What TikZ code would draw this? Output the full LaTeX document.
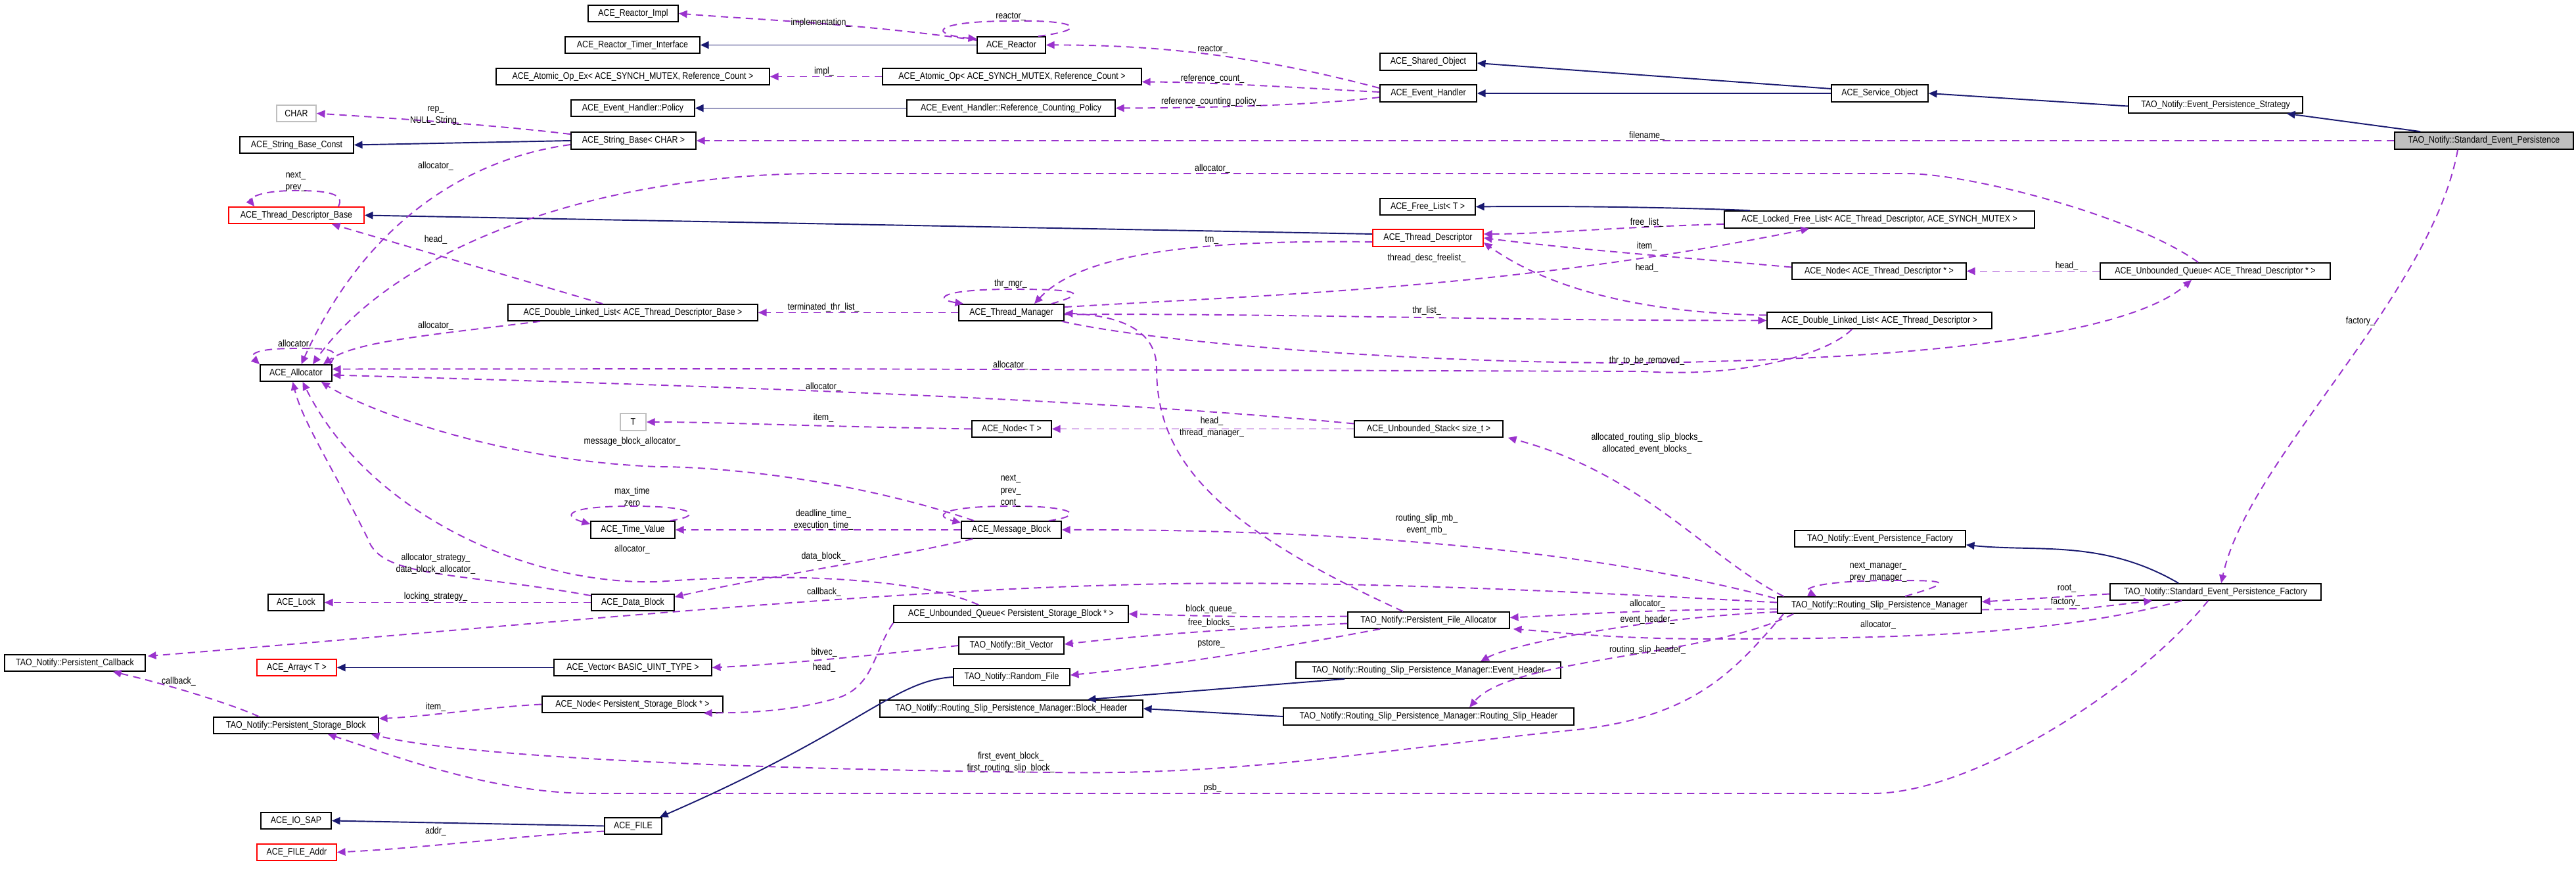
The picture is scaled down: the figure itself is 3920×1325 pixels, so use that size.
\documentclass[tikz,border=0pt]{standalone}
\usepackage{fontspec}
\setmainfont{Liberation Sans}
\newfontfamily\dfont[FakeStretch=0.86]{Liberation Sans}
\usetikzlibrary{arrows.meta,calc}
\definecolor{inh}{HTML}{191970}
\definecolor{use}{HTML}{9A32CD}
\definecolor{gbox}{HTML}{BFBFBF}
\tikzset{
  box/.style={draw=black,line width=0.5pt,inner sep=0pt,font=\dfont\fontsize{4.1}{4.6}\selectfont,fill=white},
  redbox/.style={draw=red},
  graybox/.style={draw=gbox},
  mainbox/.style={fill=gbox},
  lbl/.style={inner sep=0pt,font=\dfont\fontsize{4.1}{5.2}\selectfont,align=center},
  inhe/.style={draw=inh,line width=0.55pt,-{Triangle[length=3.6pt,width=3.2pt]}},
  usee/.style={draw=use,line width=0.55pt,dash pattern=on 3.2pt off 2.2pt,-{Triangle[length=3.6pt,width=3.2pt]}},
}
\newcommand{\bx}[7][]{\node[box,#1,minimum width={(#4-#3)*0.01cm},minimum height={(#6-#5)*0.01cm}] (#2) at ({(#3+#4)/2},{(#5+#6)/2}) {#7};}
\begin{document}
\begin{tikzpicture}[x=0.01cm,y=-0.01cm]
\useasboundingbox (0,0) rectangle (3920,1325);
% nodes
\bx{rimpl}{895}{1032}{8}{33}{ACE\_Reactor\_Impl}
\bx{rti}{860}{1065}{56}{81}{ACE\_Reactor\_Timer\_Interface}
\bx{aopex}{755}{1171}{104}{129}{ACE\_Atomic\_Op\_Ex< ACE\_SYNCH\_MUTEX, Reference\_Count >}
\bx{ehp}{869}{1057}{152}{177}{ACE\_Event\_Handler::Policy}
\bx[graybox]{char}{421}{481}{160}{185}{CHAR}
\bx{sbc}{365}{538}{208}{233}{ACE\_String\_Base\_Const}
\bx{sb}{869}{1059}{201}{227}{ACE\_String\_Base< CHAR >}
\bx[redbox]{tdb}{348}{554}{315}{340}{ACE\_Thread\_Descriptor\_Base}
\bx{reactor}{1487}{1591}{56}{81}{ACE\_Reactor}
\bx{aop}{1343}{1737}{104}{129}{ACE\_Atomic\_Op< ACE\_SYNCH\_MUTEX, Reference\_Count >}
\bx{rcp}{1380}{1697}{152}{177}{ACE\_Event\_Handler::Reference\_Counting\_Policy}
\bx{sho}{2100}{2247}{81}{107}{ACE\_Shared\_Object}
\bx{eh}{2100}{2247}{129}{155}{ACE\_Event\_Handler}
\bx{so}{2787}{2934}{129}{155}{ACE\_Service\_Object}
\bx{eps}{3239}{3504}{147}{172}{TAO\_Notify::Event\_Persistence\_Strategy}
\bx[mainbox]{sep}{3644}{3916}{201}{227}{TAO\_Notify::Standard\_Event\_Persistence}
\bx{fl}{2100}{2245}{302}{327}{ACE\_Free\_List< T >}
\bx{lfl}{2624}{3096}{321}{347}{ACE\_Locked\_Free\_List< ACE\_Thread\_Descriptor, ACE\_SYNCH\_MUTEX >}
\bx[redbox]{td}{2089}{2257}{349}{375}{ACE\_Thread\_Descriptor}
\bx{ntd}{2727}{2992}{400}{425}{ACE\_Node< ACE\_Thread\_Descriptor * >}
\bx{uqtd}{3196}{3546}{400}{425}{ACE\_Unbounded\_Queue< ACE\_Thread\_Descriptor * >}
\bx{dll1}{773}{1153}{463}{488}{ACE\_Double\_Linked\_List< ACE\_Thread\_Descriptor\_Base >}
\bx{alloc}{396}{505}{555}{580}{ACE\_Allocator}
\bx[graybox]{t}{944}{983}{629}{655}{T}
\bx{tv}{899}{1027}{793}{819}{ACE\_Time\_Value}
\bx{tm}{1459}{1619}{463}{488}{ACE\_Thread\_Manager}
\bx{nodet}{1479}{1600}{640}{665}{ACE\_Node< T >}
\bx{mb}{1463}{1615}{793}{819}{ACE\_Message\_Block}
\bx{dlltd}{2689}{3031}{475}{500}{ACE\_Double\_Linked\_List< ACE\_Thread\_Descriptor >}
\bx{stack}{2061}{2287}{640}{665}{ACE\_Unbounded\_Stack< size\_t >}
\bx{epf}{2731}{2991}{807}{832}{TAO\_Notify::Event\_Persistence\_Factory}
\bx{sepf}{3211}{3532}{888}{913}{TAO\_Notify::Standard\_Event\_Persistence\_Factory}
\bx{lock}{408}{493}{904}{929}{ACE\_Lock}
\bx{db}{900}{1026}{904}{929}{ACE\_Data\_Block}
\bx{pcb}{7}{221}{996}{1021}{TAO\_Notify::Persistent\_Callback}
\bx[redbox]{arr}{391}{512}{1003}{1028}{ACE\_Array< T >}
\bx{vec}{843}{1083}{1003}{1028}{ACE\_Vector< BASIC\_UINT\_TYPE >}
\bx{npsb}{825}{1100}{1059}{1084}{ACE\_Node< Persistent\_Storage\_Block * >}
\bx{psb}{325}{576}{1091}{1116}{TAO\_Notify::Persistent\_Storage\_Block}
\bx{iosap}{397}{504}{1236}{1261}{ACE\_IO\_SAP}
\bx{file}{920}{1007}{1244}{1269}{ACE\_FILE}
\bx[redbox]{fa}{391}{512}{1284}{1309}{ACE\_FILE\_Addr}
\bx{uqpsb}{1360}{1717}{921}{947}{ACE\_Unbounded\_Queue< Persistent\_Storage\_Block * >}
\bx{pfa}{2051}{2297}{931}{956}{TAO\_Notify::Persistent\_File\_Allocator}
\bx{bv}{1459}{1619}{969}{995}{TAO\_Notify::Bit\_Vector}
\bx{rf}{1451}{1628}{1017}{1043}{TAO\_Notify::Random\_File}
\bx{ehd}{1972}{2375}{1007}{1032}{TAO\_Notify::Routing\_Slip\_Persistence\_Manager::Event\_Header}
\bx{bh}{1339}{1739}{1065}{1091}{TAO\_Notify::Routing\_Slip\_Persistence\_Manager::Block\_Header}
\bx{rsh}{1953}{2395}{1077}{1103}{TAO\_Notify::Routing\_Slip\_Persistence\_Manager::Routing\_Slip\_Header}
\bx{rspm}{2705}{3015}{908}{933}{TAO\_Notify::Routing\_Slip\_Persistence\_Manager}
% inheritance
\draw[inhe] (reactor.west) -- (rti.east);
\draw[inhe] (rcp.west) -- (ehp.east);
\draw[inhe] (sb.west) -- (sbc.east);
\draw[inhe] ($(td.west)+(0,-6)$) -- (tdb.east);
\draw[inhe] ($(so.west)+(0,-7)$) -- ($(sho.east)+(0,2)$);
\draw[inhe] (so.west) -- (eh.east);
\draw[inhe] ($(eps.west)+(0,2)$) -- (so.east);
\draw[inhe] ($(sep.north west)+(40,0)$) -- ($(eps.south east)+(-25,0)$);
\draw[inhe] ($(lfl.north west)+(40,0)$) .. controls (2560,316) and (2400,313) .. (fl.east);
\draw[inhe] ($(sepf.north west)+(105,0)$) .. controls (3200,820) and (3100,840) .. ($(epf.south east)+(0,-4)$);
\draw[inhe] (vec.west) -- (arr.east);
\draw[inhe] ($(ehd.south west)+(75,0)$) -- ($(bh.north east)+(-85,0)$);
\draw[inhe] (rsh.west) -- (bh.east);
\draw[inhe] (file.west) -- (iosap.east);
\draw[inhe] (rf.west) .. controls (1360,1035) and (1310,1110) .. ($(file.north east)+(-4,0)$);
% usage edges
\draw[usee] ($(reactor.north west)+(0,6)$) .. controls (1300,35) and (1150,30) .. (rimpl.east);
\node[lbl] (l1) at (1249,35) {implementation\_};
\draw[usee] ($(reactor.north east)+(-12,0)$) .. controls (1660,45) and (1640,30) .. (1540,32) .. controls (1420,32) and (1410,52) .. ($(reactor.north west)+(0,4)$);
\node[lbl] (l2) at (1538,25) {reactor\_};
\draw[usee] ($(eh.west)+(0,-8)$) .. controls (1950,95) and (1800,68) .. (reactor.east);
\node[lbl] (l3) at (1845,75) {reactor\_};
\draw[usee] (aop.west) -- (aopex.east);
\node[lbl] (l4) at (1254,109) {impl\_};
\draw[usee] ($(eh.west)+(0,-2)$) .. controls (2000,135) and (1850,125) .. ($(aop.east)+(0,8)$);
\node[lbl] (l5) at (1845,120) {reference\_count\_};
\draw[usee] ($(eh.west)+(0,6)$) .. controls (2000,160) and (1850,164) .. (rcp.east);
\node[lbl] (l6) at (1843,155) {reference\_counting\_policy\_};
\draw[usee] ($(sb.north west)+(0,4)$) .. controls (750,190) and (600,180) .. (char.east);
\node[lbl] (l7) at (663,176) {rep\_\\NULL\_String\_};
\draw[usee] (sep.west) -- (sb.east);
\node[lbl] (l8) at (2506,207) {filename\_};
\draw[usee] ($(sb.west)+(0,6)$) .. controls (720,240) and (560,330) .. ($(alloc.north)+(8,0)$);
\node[lbl] (l9) at (663,253) {allocator\_};
\draw[usee] ($(tdb.north east)+(-40,0)$) .. controls (525,295) and (500,290) .. (450,290) .. controls (385,290) and (380,305) .. ($(tdb.north west)+(40,0)$);
\node[lbl] (l10) at (450,276) {next\_\\prev\_};
\draw[usee] ($(dll1.north west)+(145,0)$) -- ($(tdb.south east)+(-50,0)$);
\node[lbl] (l11) at (663,365) {head\_};
\draw[usee] ($(dll1.south west)+(50,0)$) .. controls (650,510) and (540,520) .. ($(alloc.north east)+(-14,0)$);
\node[lbl] (l12) at (663,496) {allocator\_};
\draw[usee] ($(uqtd.north west)+(150,0)$) .. controls (3250,330) and (3000,264) .. (2900,264) -- (1250,264) .. controls (900,264) and (600,380) .. ($(alloc.north east)+(-30,0)$);
\node[lbl] (l13) at (1845,257) {allocator\_};
\draw[usee] ($(alloc.north east)+(-4,0)$) .. controls (520,530) and (500,530) .. (450,530) .. controls (385,530) and (380,540) .. (alloc.north west);
\node[lbl] (l14) at (450,524) {allocator\_};
\draw[usee] ($(td.west)+(0,6)$) .. controls (1850,365) and (1650,380) .. ($(tm.north)+(35,0)$);
\node[lbl] (l15) at (1844,365) {tm\_};
\draw[usee] ($(tm.north east)+(-20,0)$) .. controls (1660,445) and (1640,440) .. (1540,440) .. controls (1430,440) and (1420,455) .. ($(tm.north west)+(8,0)$);
\node[lbl] (l16) at (1538,432) {thr\_mgr\_};
\draw[usee] (tm.west) -- (dll1.east);
\node[lbl] (l17) at (1253,468) {terminated\_thr\_list\_};
\draw[usee] ($(tm.north east)+(0,5)$) .. controls (1900,450) and (2300,440) .. ($(lfl.south west)+(130,0)$);
\node[lbl] (l18) at (2171,393) {thread\_desc\_freelist\_};
\draw[usee] ($(lfl.south west)+(0,-7)$) .. controls (2450,346) and (2350,356) .. ($(td.east)+(0,-6)$);
\node[lbl] (l19) at (2506,339) {free\_list\_};
\draw[usee] ($(ntd.west)+(0,-6)$) .. controls (2600,395) and (2400,380) .. (td.east);
\node[lbl] (l20) at (2506,375) {item\_};
\draw[usee] ($(dlltd.west)+(0,-8)$) .. controls (2450,475) and (2330,420) .. ($(td.east)+(0,7)$);
\node[lbl] (l21) at (2506,408) {head\_};
\draw[usee] (uqtd.west) -- (ntd.east);
\node[lbl] (l22) at (3145,405) {head\_};
\draw[usee] ($(tm.east)+(0,3)$) .. controls (1900,476) and (2300,488) .. (dlltd.west);
\node[lbl] (l23) at (2171,473) {thr\_list\_};
\draw[usee] ($(tm.south east)+(-4,0)$) .. controls (1800,530) and (2300,560) .. (2600,550) .. controls (3000,540) and (3250,500) .. ($(uqtd.south)+(-36,0)$);
\node[lbl] (l24) at (2506,549) {thr\_to\_be\_removed\_};
\draw[usee] ($(dlltd.south west)+(130,0)$) .. controls (2780,540) and (2650,575) .. (2500,565) -- (1200,561) -- ($(alloc.east)+(0,-6)$);
\node[lbl] (l25) at (1538,556) {allocator\_};
\draw[usee] ($(stack.west)+(0,-8)$) .. controls (1700,610) and (1200,590) .. ($(alloc.east)+(0,3)$);
\node[lbl] (l26) at (1253,589) {allocator\_};
\draw[usee] (stack.west) -- (nodet.east);
\node[lbl] (l27) at (1844,650) {head\_\\thread\_manager\_};
\draw[usee] (nodet.west) .. controls (1200,648) and (1100,642) .. (t.east);
\node[lbl] (l28) at (1253,636) {item\_};
\draw[usee] ($(pfa.north west)+(85,0)$) .. controls (1850,800) and (1760,700) .. (1760,560) .. controls (1760,500) and (1700,480) .. ($(tm.east)+(0,1)$);
\draw[usee] (mb.west) -- (tv.east);
\node[lbl] (l29) at (1253,791) {deadline\_time\_\\execution\_time\_};
\draw[usee] ($(tv.north east)+(-8,0)$) .. controls (1070,785) and (1060,770) .. (962,770) .. controls (860,770) and (855,785) .. ($(tv.north west)+(0,5)$);
\node[lbl] (l30) at (962,755) {max\_time\\zero};
\node[lbl] (l31) at (962,836) {allocator\_};
\draw[usee] ($(mb.north east)+(-20,0)$) .. controls (1650,785) and (1640,770) .. (1540,770) .. controls (1430,770) and (1420,785) .. ($(mb.north west)+(0,3)$);
\node[lbl] (l32) at (1538,747) {next\_\\prev\_\\cont\_};
\draw[usee] ($(mb.north west)+(20,0)$) .. controls (1300,730) and (1100,710) .. (1000,710) .. controls (750,700) and (550,620) .. ($(alloc.south east)+(-17,0)$);
\node[lbl] (l33) at (962,672) {message\_block\_allocator\_};
\draw[usee] ($(mb.south west)+(18,0)$) .. controls (1350,850) and (1150,880) .. ($(db.north east)+(0,5)$);
\node[lbl] (l34) at (1253,847) {data\_block\_};
\draw[usee] (db.west) -- (lock.east);
\node[lbl] (l35) at (663,908) {locking\_strategy\_};
\draw[usee] ($(db.north west)+(0,3)$) .. controls (700,870) and (580,880) .. (560,820) .. controls (500,700) and (460,640) .. ($(alloc.south)+(-5,0)$);
\node[lbl] (l36) at (663,858) {allocator\_strategy\_\\data\_block\_allocator\_};
\draw[usee] ($(uqpsb.north west)+(130,0)$) .. controls (1400,880) and (1200,870) .. (1000,885) .. controls (800,890) and (560,780) .. ($(alloc.south)+(10,0)$);
\draw[usee] ($(rspm.west)+(0,-4)$) .. controls (2400,900) and (2000,880) .. (1700,890) .. controls (1300,900) and (700,960) .. ($(pcb.north east)+(3,3)$);
\node[lbl] (l37) at (1254,901) {callback\_};
\draw[usee] ($(rspm.north west)+(-3,3)$) .. controls (2400,830) and (2000,805) .. (mb.east);
\node[lbl] (l38) at (2171,798) {routing\_slip\_mb\_\\event\_mb\_};
\draw[usee] ($(rspm.north west)+(10,0)$) .. controls (2600,850) and (2500,720) .. ($(stack.south east)+(7,0)$);
\node[lbl] (l39) at (2506,675) {allocated\_routing\_slip\_blocks\_\\allocated\_event\_blocks\_};
\draw[usee] ($(rspm.west)+(0,6)$) .. controls (2500,927) and (2400,935) .. ($(pfa.east)+(0,-4)$);
\node[lbl] (l40) at (2507,919) {allocator\_};
\draw[usee] ($(rspm.south west)+(0,-3)$) .. controls (2500,940) and (2300,980) .. ($(ehd.north west)+(282,0)$);
\node[lbl] (l41) at (2507,943) {event\_header\_};
\draw[usee] ($(rspm.south west)+(25,0)$) .. controls (2600,1000) and (2300,1000) .. ($(rsh.north west)+(284,0)$);
\node[lbl] (l42) at (2507,989) {routing\_slip\_header\_};
\draw[usee] ($(rspm.north west)+(195,0)$) .. controls (2975,885) and (2965,883) .. (2886,883) .. controls (2770,883) and (2740,895) .. ($(rspm.north west)+(60,0)$);
\node[lbl] (l43) at (2858,870) {next\_manager\_\\prev\_manager\_};
\draw[usee] ($(sepf.west)+(0,3)$) -- ($(rspm.east)+(0,-5)$);
\node[lbl] (l44) at (3145,895) {root\_};
\draw[usee] ($(rspm.east)+(0,7)$) -- (3170,926) -- ($(sepf.south west)+(65,0)$);
\node[lbl] (l45) at (3143,916) {factory\_};
\draw[usee] ($(sepf.south west)+(110,0)$) .. controls (3150,960) and (2950,972) .. (2600,972) .. controls (2450,972) and (2350,960) .. ($(pfa.south east)+(5,0)$);
\node[lbl] (l46) at (2858,951) {allocator\_};
\draw[usee] ($(sep.south)+(-40,0)$) .. controls (3700,450) and (3420,700) .. ($(sepf.north west)+(170,0)$);
\node[lbl] (l47) at (3592,489) {factory\_};
\draw[usee] ($(sepf.south west)+(150,0)$) .. controls (3250,1050) and (3000,1207) .. (2850,1207) -- (900,1207) .. controls (750,1207) and (600,1150) .. ($(psb.south east)+(-78,0)$);
\node[lbl] (l48) at (1845,1199) {psb\_};
\draw[usee] ($(rspm.south west)+(10,0)$) .. controls (2640,1020) and (2580,1090) .. (2400,1110) .. controls (2100,1140) and (1900,1180) .. (1600,1175) .. controls (1100,1170) and (700,1150) .. ($(psb.south east)+(-12,0)$);
\node[lbl] (l49) at (1538,1160) {first\_event\_block\_\\first\_routing\_slip\_block\_};
\draw[usee] ($(pfa.west)+(0,-6)$) .. controls (1900,940) and (1800,936) .. (uqpsb.east);
\node[lbl] (l50) at (1843,927) {block\_queue\_};
\draw[usee] ($(pfa.west)+(0,5)$) .. controls (1900,955) and (1750,965) .. ($(bv.east)+(0,-2)$);
\node[lbl] (l51) at (1843,948) {free\_blocks\_};
\draw[usee] ($(pfa.south west)+(50,0)$) .. controls (1950,985) and (1800,1010) .. ($(rf.east)+(0,-3)$);
\node[lbl] (l52) at (1843,979) {pstore\_};
\draw[usee] (bv.west) .. controls (1350,995) and (1200,1010) .. (vec.east);
\node[lbl] (l53) at (1254,993) {bitvec\_};
\draw[usee] (uqpsb.south west) .. controls (1330,990) and (1330,1040) .. (1280,1060) .. controls (1200,1085) and (1120,1084) .. ($(npsb.south east)+(-30,0)$);
\node[lbl] (l54) at (1254,1016) {head\_};
\draw[usee] (npsb.west) .. controls (750,1075) and (650,1090) .. ($(psb.north east)+(0,3)$);
\node[lbl] (l55) at (663,1076) {item\_};
\draw[usee] ($(psb.north west)+(70,0)$) .. controls (350,1070) and (250,1040) .. ($(pcb.south east)+(-50,0)$);
\node[lbl] (l56) at (272,1037) {callback\_};
\draw[usee] ($(file.west)+(0,8)$) .. controls (800,1270) and (650,1290) .. (fa.east);
\node[lbl] (l57) at (663,1265) {addr\_};
\end{tikzpicture}
\end{document}
